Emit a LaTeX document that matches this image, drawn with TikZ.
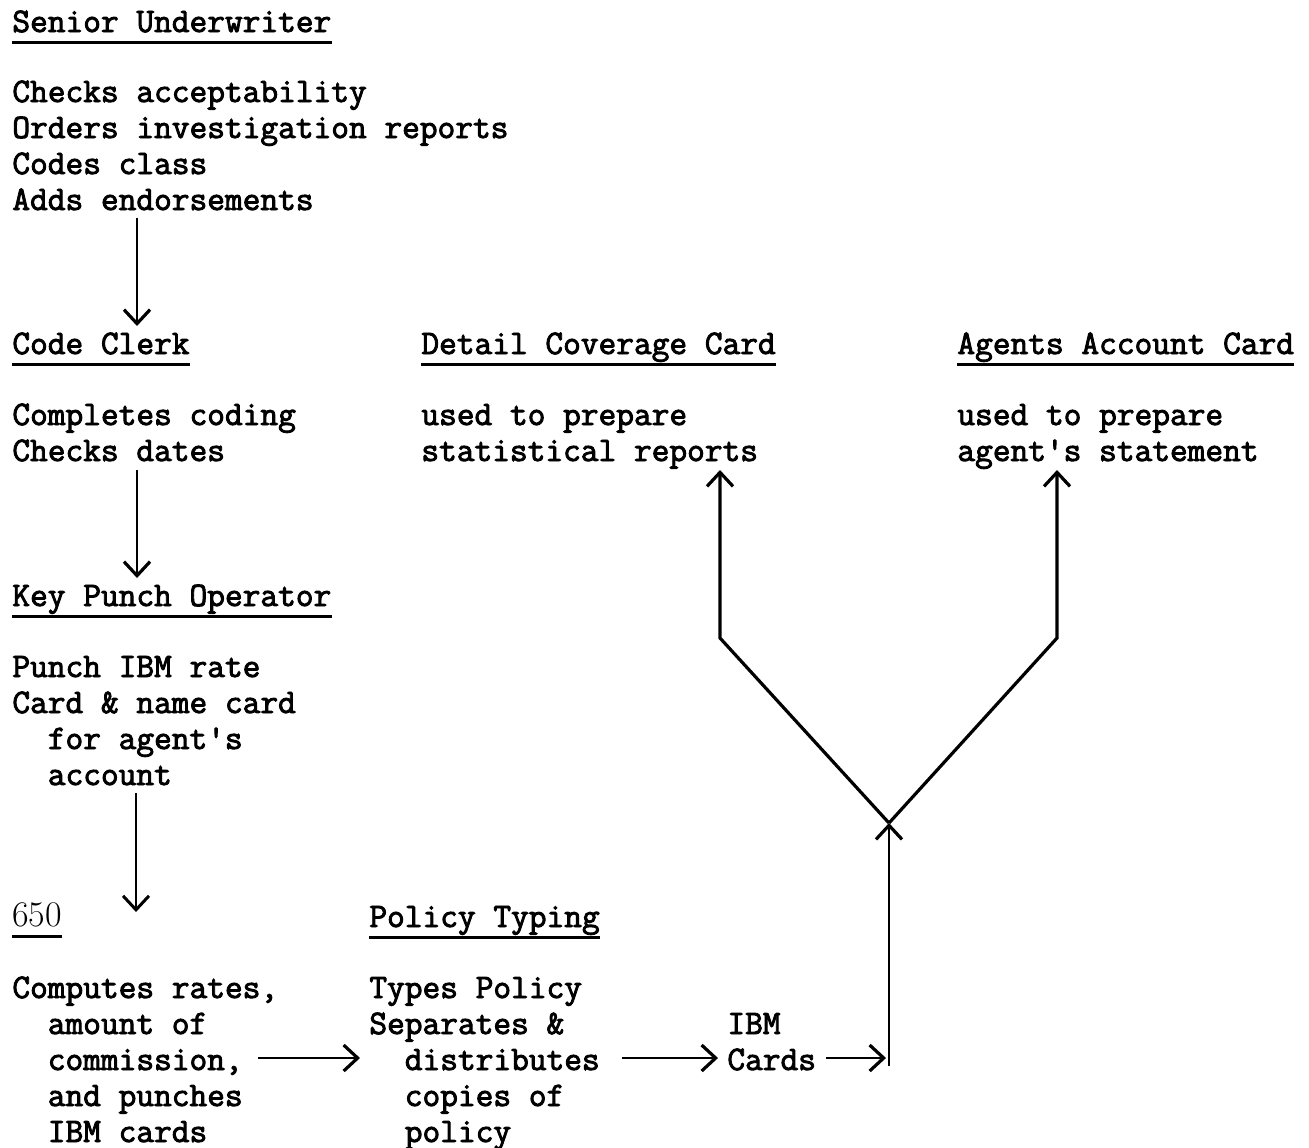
\documentclass[tikz,border=0pt]{standalone}
\usepackage{fontspec}
\newfontfamily\tw[FakeBold=2.6]{Latin Modern Mono}
\usetikzlibrary{arrows.meta}
\newcommand{\twsize}{\tw\fontsize{17.2}{18}\selectfont\spaceskip=\fontcharwd\font`\x\relax\xspaceskip=\spaceskip}
\begin{document}
\begin{tikzpicture}[x=0.5pt,y=-0.5pt,
  hd/.style={anchor=base west,inner sep=0pt,font=\twsize},
  txt/.style={anchor=base west,inner sep=0pt,text width=320pt,align=left,font=\twsize,
    execute at begin node={\spaceskip=\fontcharwd\font`\x\relax\xspaceskip=\spaceskip}},
  ul/.style={line width=1.5pt},
  arr/.style={line width=1.1pt,-{Straight Barb[length=7pt,width=13pt,line width=1.6pt]}},
  thinarr/.style={line width=0.6pt,-{Straight Barb[length=7pt,width=13pt,line width=1.5pt]}},
  fork/.style={line width=1.6pt}]
\useasboundingbox (0,0) rectangle (1309,1147);
\newcommand{\ind}{\phantom{xx}}
% headers
\node[hd] (su) at (12,32) {Senior Underwriter};
\node[hd] (cc) at (12,354) {Code Clerk};
\node[hd] (dc) at (421,354) {Detail Coverage Card};
\node[hd] (ag) at (957,354) {Agents Account Card};
\node[hd] (kp) at (12,606) {Key Punch Operator};
\node[anchor=base west,inner sep=0pt,font=\fontsize{18}{20}\selectfont] (n650) at (12,926) {650};
\node[hd] (pt) at (369,927) {Policy Typing};
\foreach \h in {su,cc,dc,ag,kp,n650,pt}
  \draw[ul] ([yshift=-5pt]\h.base west) -- ([yshift=-5pt]\h.base east);
% bodies
\node[txt] (sut) at (12,102) {Checks acceptability\\Orders investigation reports\\Codes class\\Adds endorsements};
\node[txt] (cct) at (12,425) {Completes coding\\Checks dates};
\node[txt] (dct) at (421,425) {used to prepare\\statistical reports};
\node[txt] (agt) at (957,425) {used to prepare\\agent's statement};
\node[txt] (kpt) at (12,677) {Punch IBM rate\\Card \& name card\\\ind for agent's\\\ind account};
\node[txt] (n650t) at (12,998) {Computes rates,\\\ind amount of\\\ind commission,\\\ind and punches\\\ind IBM cards};
\node[txt] (ptt) at (369,998) {Types Policy\\Separates \&\\\ind distributes\\\ind copies of\\\ind policy};
\node[txt,text width=100pt] (ibm) at (727,1034) {IBM\\Cards};
% connectors
\coordinate (a1s) at (137,218); \coordinate (a1e) at (137,326);
\coordinate (a2s) at (137,470); \coordinate (a2e) at (137,578);
\coordinate (a3s) at (136,793); \coordinate (a3e) at (136,912);
\draw[arr] (a1s) -- (a1e);
\draw[arr] (a2s) -- (a2e);
\draw[thinarr] (a3s) -- (a3e);
\coordinate (h1s) at (258,1058); \coordinate (h1e) at (360,1058);
\coordinate (h2s) at (622,1058); \coordinate (h2e) at (718,1058);
\coordinate (h3s) at (826,1058); \coordinate (h3e) at (886,1058);
\draw[arr] (h1s) -- (h1e);
\draw[arr] (h2s) -- (h2e);
\draw[arr] (h3s) -- (h3e);
\coordinate (vb) at (889,1066);
\coordinate (J) at (889,823);
\coordinate (lk) at (720,638); \coordinate (lt) at (720,470);
\coordinate (rk) at (1057,638); \coordinate (rt) at (1057,470);
\draw[arr] (vb) -- (J);
\draw[fork,-{Straight Barb[length=7pt,width=13pt,line width=1.6pt]}] (J) -- (lk) -- (lt);
\draw[fork,-{Straight Barb[length=7pt,width=13pt,line width=1.6pt]}] (J) -- (rk) -- (rt);
\end{tikzpicture}
\end{document}
